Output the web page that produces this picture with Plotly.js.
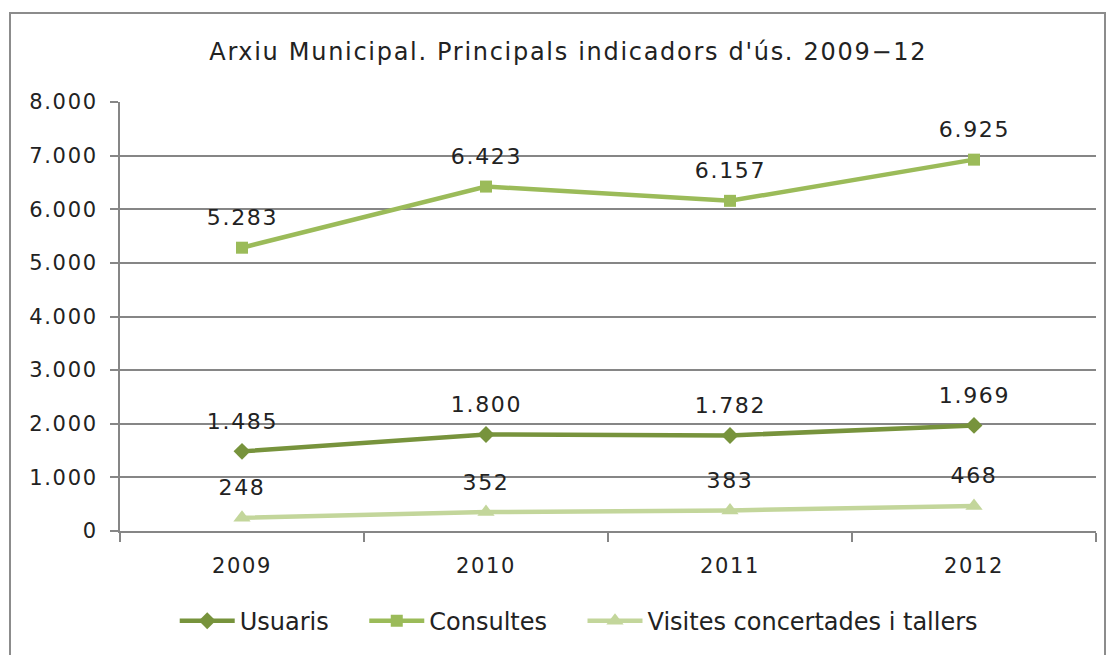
<!DOCTYPE html>
<html><head><meta charset="utf-8">
<script src="https://cdn.plot.ly/plotly-3.0.1.min.js"></script>
<style>
body{margin:0;background:#fff;}
#frame{position:absolute;left:9px;top:12px;width:1097px;height:660px;border:2px solid #8c8c8c;box-sizing:border-box;}
#chart{position:absolute;left:0;top:0;width:1112px;height:655px;}
#chart svg text:not(.legendtext){letter-spacing:1.7px;}
</style></head>
<body>
<div id="frame"></div>
<div id="chart"></div>
<script>
const years = ['2009','2010','2011','2012'];
const usuaris = [1485, 1800, 1782, 1969];
const consultes = [5283, 6423, 6157, 6925];
const visites = [248, 352, 383, 468];
const seriesNames = ['Usuaris', 'Consultes', 'Visites concertades i tallers'];

const FONT = 'DejaVu Sans, Liberation Sans, sans-serif';
const PAD = '\u00a0\u00a0\u00a0\u00a0';
function tr(name, y, color, symbol, msize, last){
  return {x: years, y: y, name: last ? name : name + PAD, type:'scatter', mode:'lines+markers',
    line:{color:color, width:4.5},
    marker:{color:color, symbol:symbol, size:msize}};
}
const data = [
  tr(seriesNames[0], usuaris, '#77933C', 'diamond', 13, false),
  tr(seriesNames[1], consultes, '#9BBB59', 'square', 12, false),
  tr(seriesNames[2], visites, '#C3D69B', 'triangle-up', 15, true)
];
const fmt = v => String(v).replace(/\B(?=(\d{3})+(?!\d))/g, '.');
const annotations = [];
[usuaris, consultes, visites].forEach(arr => {
  arr.forEach((v, i) => {
    annotations.push({x: i, y: v, xref:'x', yref:'y', text: fmt(v), showarrow:false,
      yshift: 30, xanchor:'center', yanchor:'middle',
      font:{family:FONT, size:22, color:'#222'}});
  });
});
const layout = {
  width:1112, height:655,
  margin:{l:120, r:16, t:102, b:124},
  paper_bgcolor:'rgba(0,0,0,0)', plot_bgcolor:'rgba(0,0,0,0)',
  separators:',.',
  font:{family:FONT, size:21, color:'#222'},
  title:{text:"Arxiu Municipal. Principals indicadors d'ús. 2009−12", x:0.511, xref:'container', xanchor:'center',
    y:0.921, yref:'container', yanchor:'middle', font:{family:FONT, size:24, color:'#222'}},
  xaxis:{type:'category', tickson:'boundaries', ticks:'outside', ticklen:9, tickcolor:'#868686', tickwidth:2,
    showline:true, linecolor:'#868686', linewidth:2, showgrid:false, zeroline:false, ticklabelstandoff:15,
    tickfont:{family:FONT, size:21, color:'#222'}, range:[-0.5,3.5]},
  yaxis:{range:[0,8000], dtick:1000, tick0:0, separatethousands:true, tickformat:',d',
    ticks:'outside', ticklen:8, tickcolor:'#868686', tickwidth:2,
    showline:true, linecolor:'#868686', linewidth:2, ticklabelstandoff:8,
    showgrid:true, gridcolor:'#868686', gridwidth:2, zeroline:false,
    tickfont:{family:FONT, size:21, color:'#222'}},
  annotations: annotations,
  showlegend:true,
  legend:{orientation:'h', x:0.47, xanchor:'center', y:-0.21, yanchor:'middle',
    font:{family:FONT, size:24, color:'#222'}, itemwidth:55, traceorder:'normal'}
};
Plotly.newPlot('chart', data, layout, {displayModeBar:false, staticPlot:true});
</script>
</body></html>
